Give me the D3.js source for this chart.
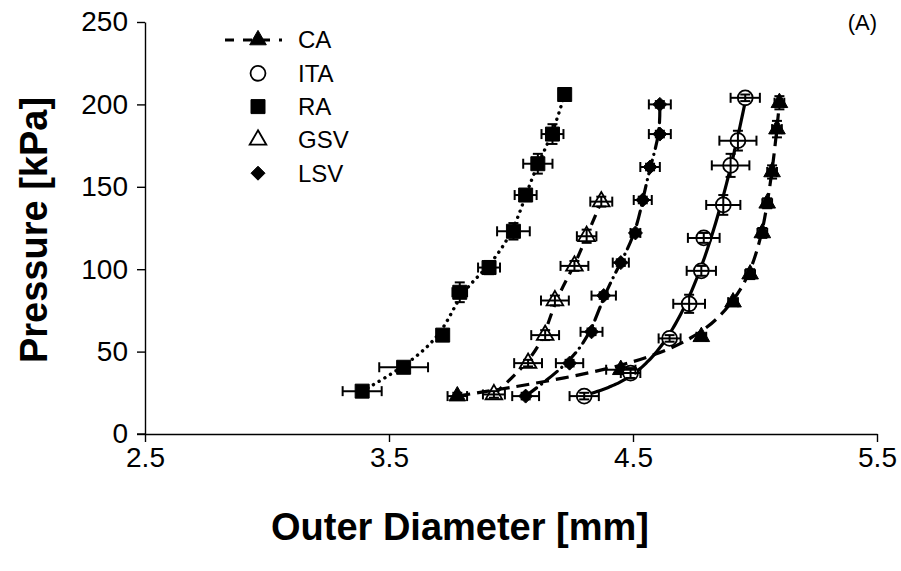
<!DOCTYPE html>
<html>
<head>
<meta charset="utf-8">
<script src="https://cdn.jsdelivr.net/npm/d3@7"></script>
<style>
  body { margin: 0; background: #fff; }
  svg { font-family: "Liberation Sans", Arial, sans-serif; }
</style>
</head>
<body>
<div id="chart"></div>
<script>
// data: outer diameter [mm] vs pressure [kPa]
const seriesNames = ["CA", "ITA", "RA", "GSV", "LSV"];

const caD = [3.78, 4.45, 4.78, 4.91, 4.98, 5.03, 5.05, 5.07, 5.09, 5.10];
const caP = [23, 39, 59, 80, 97, 122, 140, 159, 185, 201];
const caDErr = [0.04, 0.06, 0.02, 0.02, 0.02, 0.02, 0.02, 0.02, 0.02, 0.02];
const caPErr = [2, 2, 2, 2, 3, 3, 3, 4, 5, 4];

const itaD = [4.30, 4.49, 4.65, 4.73, 4.78, 4.79, 4.87, 4.90, 4.93, 4.96];
const itaP = [23, 37, 58, 79, 99, 119, 139, 163, 178, 204];
const itaDErr = [0.06, 0.04, 0.045, 0.065, 0.06, 0.065, 0.07, 0.077, 0.076, 0.06];
const itaPErr = [2, 3, 2, 5.5, 3, 3, 6, 7, 6, 2];

const raD = [3.39, 3.56, 3.72, 3.79, 3.91, 4.01, 4.06, 4.11, 4.17, 4.22];
const raP = [26, 40.5, 60, 86, 101, 123, 145, 164, 182, 206];
const raDErr = [0.08, 0.1, 0.02, 0.03, 0.045, 0.067, 0.045, 0.06, 0.045, 0.02];
const raPErr = [2, 2, 2, 6, 4, 5, 3, 6, 6, 2];

const gsvD = [3.93, 4.07, 4.14, 4.18, 4.26, 4.31, 4.37];
const gsvP = [24, 43, 60, 81, 102, 120, 141];
const gsvDErr = [0.045, 0.057, 0.057, 0.057, 0.057, 0.04, 0.045];
const gsvPErr = [2, 2, 3, 3, 3, 4, 3];

const lsvD = [4.06, 4.24, 4.33, 4.38, 4.45, 4.51, 4.54, 4.57, 4.61, 4.61];
const lsvP = [23, 43, 62, 84, 104, 122, 142, 162, 182, 200];
const lsvDErr = [0.055, 0.056, 0.045, 0.05, 0.033, 0.02, 0.037, 0.04, 0.045, 0.045];
const lsvPErr = [2, 2, 2, 2, 2, 2, 2, 2, 2, 2];

const xTicks = [2.5, 3.5, 4.5, 5.5];
const yTicks = [0, 50, 100, 150, 200, 250];

function pack(d, p, dErr, pErr) {
    return d.map(function (v, i) {
        return {d: v, p: p[i], de: dErr[i], pe: pErr[i]};
    });
}

// least squares polynomial P(D), like a spreadsheet trendline
function polyFit(xs, ys, deg) {
    let m = d3.mean(xs);
    let n = deg + 1;
    let A = [], b = [];
    for (let r = 0; r < n; r++) {
        A.push(new Array(n).fill(0));
        b.push(0);
    }
    xs.forEach(function (xv, i) {
        let t = xv - m;
        for (let r = 0; r < n; r++) {
            for (let c = 0; c < n; c++) A[r][c] += Math.pow(t, r + c);
            b[r] += ys[i] * Math.pow(t, r);
        }
    });
    for (let k = 0; k < n; k++) {
        for (let r = k + 1; r < n; r++) {
            let f = A[r][k] / A[k][k];
            for (let c = k; c < n; c++) A[r][c] -= f * A[k][c];
            b[r] -= f * b[k];
        }
    }
    let coef = new Array(n).fill(0);
    for (let r = n - 1; r >= 0; r--) {
        let s = b[r];
        for (let c = r + 1; c < n; c++) s -= A[r][c] * coef[c];
        coef[r] = s / A[r][r];
    }
    return function (xv) {
        let t = xv - m;
        return coef.reduce(function (acc, c, i) { return acc + c * Math.pow(t, i); }, 0);
    };
}

let series = [
    {name: "CA",  pts: pack(caD, caP, caDErr, caPErr),    marker: "triUp",  fill: "#000", dash: "13,7", fit: 0},
    {name: "ITA", pts: pack(itaD, itaP, itaDErr, itaPErr), marker: "circle", fill: "#fff", dash: null, fit: 3},
    {name: "RA",  pts: pack(raD, raP, raDErr, raPErr),     marker: "square", fill: "#000", dash: "0.1,6.5", fit: 0},
    {name: "GSV", pts: pack(gsvD, gsvP, gsvDErr, gsvPErr), marker: "triUp",  fill: "#fff", dash: "11,7", fit: 0},
    {name: "LSV", pts: pack(lsvD, lsvP, lsvDErr, lsvPErr), marker: "diamond", fill: "#000", dash: "14,6,0.1,6", fit: 0}
];

let width = 901,
    height = 571;

let svg = d3.select("#chart")
    .append("svg")
    .attr("width", width)
    .attr("height", height);

let x = d3.scaleLinear().domain([2.5, 5.5]).range([145, 877]);
let y = d3.scaleLinear().domain([0, 250]).range([434, 22]);

// axes
let xAxis = svg.append("g")
    .attr("transform", "translate(0," + y(0) + ")")
    .call(d3.axisBottom(x).tickValues(xTicks).tickFormat(d3.format(".1f")).tickSize(8).tickPadding(5).tickSizeOuter(0));

let yAxis = svg.append("g")
    .attr("transform", "translate(" + x(2.5) + ",0)")
    .call(d3.axisLeft(y).tickValues(yTicks).tickSize(8).tickPadding(9).tickSizeOuter(0));

[xAxis, yAxis].forEach(function (a) {
    a.select(".domain").attr("stroke", "#000").attr("stroke-width", 1.4);
    a.selectAll(".tick line").attr("stroke", "#000").attr("stroke-width", 1.4);
    a.selectAll(".tick text").attr("fill", "#000").style("font-size", "28px");
});
// the small stub left of the y axis at the x axis level
svg.append("line")
    .attr("x1", x(2.5) - 8).attr("x2", x(2.5))
    .attr("y1", y(0)).attr("y2", y(0))
    .attr("stroke", "#000").attr("stroke-width", 1.4);

// axis titles
svg.append("text")
    .attr("transform", "translate(34,230) rotate(-90)")
    .attr("text-anchor", "middle")
    .attr("dominant-baseline", "central")
    .style("font-size", "38px")
    .style("font-weight", "bold")
    .text("Pressure [kPa]");

svg.append("text")
    .attr("x", 460)
    .attr("y", 540)
    .attr("text-anchor", "middle")
    .style("font-size", "38px")
    .style("font-weight", "bold")
    .text("Outer Diameter [mm]");

svg.append("text")
    .attr("x", 877)
    .attr("y", 30)
    .attr("text-anchor", "end")
    .style("font-size", "22px")
    .text("(A)");

// marker shapes
function markerPath(type) {
    if (type === "triUp") return d3.symbol().type(d3.symbolTriangle).size(120)();
    if (type === "square") return d3.symbol().type(d3.symbolSquare).size(196)();
    if (type === "diamond") return "M0,-7L7,0L0,7L-7,0Z";
    return d3.symbol().type(d3.symbolCircle).size(175)();
}

// trend curves
let line = d3.line()
    .x(function (d) { return x(d.d); })
    .y(function (d) { return y(d.p); })
    .curve(d3.curveBasis);

series.forEach(function (s) {
    let pts = s.pts;
    if (s.fit > 0) {
        let f = polyFit(s.pts.map(function (d) { return d.d; }), s.pts.map(function (d) { return d.p; }), s.fit);
        let ext = d3.extent(s.pts, function (d) { return d.d; });
        pts = d3.range(0, 61).map(function (i) {
            let dv = ext[0] + (ext[1] - ext[0]) * i / 60;
            return {d: dv, p: f(dv)};
        });
    }
    svg.append("path")
        .datum(pts)
        .attr("d", line)
        .attr("fill", "none")
        .attr("stroke", "#000")
        .attr("stroke-width", s.name === "RA" ? 3.4 : 3.2)
        .attr("stroke-linecap", s.name === "RA" || s.name === "LSV" ? "round" : "butt")
        .attr("stroke-dasharray", s.dash);
});

// markers
series.forEach(function (s) {
    svg.append("g").selectAll("path")
        .data(s.pts)
        .enter().append("path")
        .attr("transform", function (d) { return "translate(" + x(d.d) + "," + y(d.p) + ")"; })
        .attr("d", markerPath(s.marker))
        .attr("fill", s.fill)
        .attr("stroke", "#000")
        .attr("stroke-width", s.fill === "#fff" ? 1.8 : 1);
});

// error bars on top
series.forEach(function (s) {
    let g = svg.append("g").attr("stroke", "#000").attr("stroke-width", 2);
    s.pts.forEach(function (d) {
        let cx = x(d.d), cy = y(d.p);
        let x0 = x(d.d - d.de), x1 = x(d.d + d.de);
        let y0 = y(d.p - d.pe), y1 = y(d.p + d.pe);
        g.append("line").attr("x1", x0).attr("x2", x1).attr("y1", cy).attr("y2", cy);
        g.append("line").attr("x1", x0).attr("x2", x0).attr("y1", cy - 5).attr("y2", cy + 5);
        g.append("line").attr("x1", x1).attr("x2", x1).attr("y1", cy - 5).attr("y2", cy + 5);
        g.append("line").attr("x1", cx).attr("x2", cx).attr("y1", y0).attr("y2", y1);
        g.append("line").attr("x1", cx - 5).attr("x2", cx + 5).attr("y1", y0).attr("y2", y0);
        g.append("line").attr("x1", cx - 5).attr("x2", cx + 5).attr("y1", y1).attr("y2", y1);
    });
});

// legend
let legend = svg.append("g").attr("transform", "translate(0,40)");
let rows = legend.selectAll(".row")
    .data(series)
    .enter().append("g")
    .attr("class", "row")
    .attr("transform", function (d, i) { return "translate(258," + (i * 33.3) + ")"; });

rows.filter(function (d) { return d.name === "CA"; })
    .append("line")
    .attr("x1", -33).attr("x2", 24)
    .attr("stroke", "#000").attr("stroke-width", 3.2)
    .attr("stroke-dasharray", "9,9");

rows.append("path")
    .attr("d", function (d) { return markerPath(d.marker); })
    .attr("fill", function (d) { return d.fill; })
    .attr("stroke", "#000")
    .attr("stroke-width", function (d) { return d.fill === "#fff" ? 1.8 : 1; });

rows.append("text")
    .attr("x", 40)
    .attr("dy", "0.35em")
    .style("font-size", "24px")
    .text(function (d) { return d.name; });
</script>
</body>
</html>
